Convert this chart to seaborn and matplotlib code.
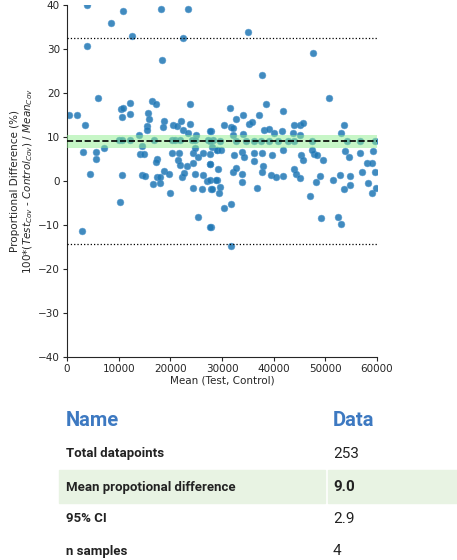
import matplotlib
matplotlib.use('Agg')
import matplotlib.pyplot as plt
import seaborn as sns
import pandas as pd
from matplotlib.patches import Rectangle

# mean of test and control, and proportional difference (%)
mean_vals = [3930, 10900, 18200, 23500, 8450, 12500, 22400, 3930, 18400, 6060,
             12200, 16400, 17200, 23800, 390, 1880, 10400, 10800, 10600, 12200,
             15700, 15900, 3480, 18800, 18500, 15500, 15400, 20600, 21350, 22100,
             23800, 22500, 23500, 25000, 27800, 13900, 10100, 10600, 12100, 16800,
             20300, 20900, 21900, 24100, 24800, 27300, 28200, 14600, 7200, 5600,
             3000, 5600, 14100, 14900, 17500, 17200, 20300, 21700, 21500, 21900,
             24400, 24800, 25400, 26300, 27700, 29000, 23300, 24400, 24800, 26400,
             27000, 4450, 10600, 14500, 15000, 17400, 18000, 16600, 18000, 18800,
             19700, 22200, 22600, 24300, 26100, 27800, 29000, 19900, 10300, 25400,
             27800, 2960,
             35100, 47600, 37800, 50700, 31500, 38500, 41900, 34000, 32700, 37200,
             35300, 35900, 30300, 31700, 32200, 38200, 39100, 40100, 41700, 43900,
             45100, 45600, 43700, 45000, 53700, 53000, 27700, 32200, 34000, 27700,
             29600, 32700, 34700, 36200, 37500, 39100, 40900, 42800, 43900, 47400,
             54100, 56800, 59600, 27700, 28000, 29100, 29900, 32300, 33900, 34200,
             36200, 37800, 36100, 39700, 41900, 45200, 45600, 47900, 48300, 49600,
             47400, 53800, 54600, 56700, 59200, 27700, 29200, 32100, 32700, 33900,
             38000, 37700, 39400, 40400, 41900, 43900, 44300, 45000, 49000, 48200,
             51500, 52800, 54800, 53600, 54800, 57000, 58000, 59000, 58200, 59600,
             59000, 59900, 27700, 28800, 28000, 29600, 29400, 30300, 31700, 36800,
             33900, 47000, 49200, 52400, 53000, 27700, 31700]
prop_diff = [40.0, 38.6, 39.2, 39.0, 36.0, 33.0, 32.6, 30.7, 27.4, 18.9,
             17.8, 18.2, 17.5, 17.4, 15.1, 15.1, 16.3, 16.6, 14.5, 15.2,
             15.5, 14.2, 12.8, 13.6, 12.2, 12.5, 11.6, 12.7, 12.5, 13.7,
             13.0, 11.7, 11.0, 10.5, 11.3, 10.5, 9.3, 9.3, 9.3, 9.3,
             9.3, 9.3, 9.3, 9.3, 9.3, 9.3, 9.3, 8.0, 7.4, 6.7,
             6.7, 5.0, 6.1, 6.1, 5.0, 4.4, 6.3, 6.3, 4.8, 3.6,
             6.3, 7.4, 5.5, 6.3, 3.9, 7.0, 3.5, 4.0, 1.6, 1.4,
             0.0, 1.7, 1.4, 1.4, 1.2, 1.0, 0.8, -0.7, -0.5, 2.3,
             1.7, 0.8, 1.9, -1.5, -1.9, -1.9, 0.2, -2.8, -4.7, -8.1,
             -10.4, -11.3,
             33.9, 29.0, 24.2, 18.9, 16.7, 17.5, 15.9, 15.0, 14.0, 15.0,
             13.0, 13.3, 12.7, 12.3, 12.0, 11.6, 11.9, 10.8, 11.4, 12.7,
             12.7, 13.1, 10.8, 10.5, 12.7, 11.0, 11.4, 10.5, 10.6, 9.0,
             9.0, 9.0, 9.0, 9.0, 9.0, 9.0, 9.0, 9.0, 9.0, 9.0,
             9.0, 9.0, 9.0, 6.1, 7.8, 7.0, 7.0, 6.0, 6.7, 5.5,
             6.3, 6.4, 4.6, 5.8, 7.0, 5.8, 4.8, 6.1, 5.9, 4.8,
             7.0, 6.9, 5.4, 6.3, 6.9, 3.9, 2.7, 2.1, 2.9, 1.7,
             3.5, 2.0, 1.4, 0.8, 1.2, 2.7, 1.7, 0.6, 1.2, -0.2,
             0.2, 1.4, 1.2, -1.9, -0.9, 2.1, 4.2, 4.0, -0.4, 2.1,
             -2.8, -1.7, 0.2, 0.2, -1.9, -1.3, -2.7, -6.2, -5.2, -1.7,
             -0.3, -3.4, -8.3, -8.1, -9.8, -10.4, -14.8]

mean_diff = 9.0
ci = 2.9
loa_upper = 32.4
loa_lower = -14.4

table_names = ['Total datapoints', 'Mean propotional difference', '95% CI', 'n samples']
table_values = ['253', '9.0', '2.9', '4']

df = pd.DataFrame({'mean': mean_vals, 'diff': prop_diff})

sns.set_theme(style='ticks')
plt.rcParams['font.family'] = ['DejaVu Sans']

fig = plt.figure(figsize=(4.57, 5.6), dpi=100)
ax = fig.add_axes([67 / 457, 1 - 357 / 560, 310 / 457, 352 / 560])

sns.scatterplot(data=df, x='mean', y='diff', ax=ax, color='#1f77b4', s=24,
                alpha=0.85, edgecolor='#5a9bd0', linewidth=0.4, zorder=2)
ax.axhspan(mean_diff - ci / 2, mean_diff + ci / 2, color='#90ee90', alpha=0.5, lw=0, zorder=3)
ax.axhline(mean_diff, color='black', ls='--', lw=1.2, zorder=4)
ax.axhline(loa_upper, color='black', ls=':', lw=0.9, zorder=4)
ax.axhline(loa_lower, color='black', ls=':', lw=0.9, zorder=4)

ax.set_xlim(0, 60000)
ax.set_ylim(-40, 40)
ax.set_xticks(range(0, 60001, 10000))
ax.set_yticks(range(-40, 41, 10))
ax.tick_params(labelsize=7.5, length=3, width=0.8, pad=2)
ax.set_xlabel('Mean (Test, Control)', fontsize=7.5, labelpad=1)
ax.set_ylabel('Proportional Difference (%)\n100*($Test_{Cov}$ - $Control_{Cov}$) / $Mean_{Cov}$',
              fontsize=7.5, labelpad=2)
sns.despine(ax=ax)
for sp in ax.spines.values():
    sp.set_linewidth(0.8)

# summary table below the plot
H = 560
def fy(py):
    return 1 - py / H

fig.patches.append(Rectangle((59 / 457, fy(503)), 266 / 457, 33 / H,
                             transform=fig.transFigure, color='#e8f3e3', zorder=0))
fig.patches.append(Rectangle((328 / 457, fy(503)), 129 / 457, 33 / H,
                             transform=fig.transFigure, color='#e8f3e3', zorder=0))
fig.text(66 / 457, fy(420), 'Name', fontsize=14.5, fontweight='bold', color='#3d79c1',
         family='Roboto', va='center')
fig.text(333 / 457, fy(420), 'Data', fontsize=14.5, fontweight='bold', color='#3d79c1',
         family='Roboto', va='center')
rows_y = [454, 487, 519, 551]
for i, (name, val) in enumerate(zip(table_names, table_values)):
    fig.text(66 / 457, fy(rows_y[i]), name, fontsize=9.5, fontweight='bold', color='#222222',
             family='Roboto', va='center')
    fig.text(333 / 457, fy(rows_y[i]), val, fontsize=11,
             fontweight='bold' if i == 1 else 'normal', color='#222222',
             family='Roboto', va='center')

fig.savefig('out.png', dpi=100)
